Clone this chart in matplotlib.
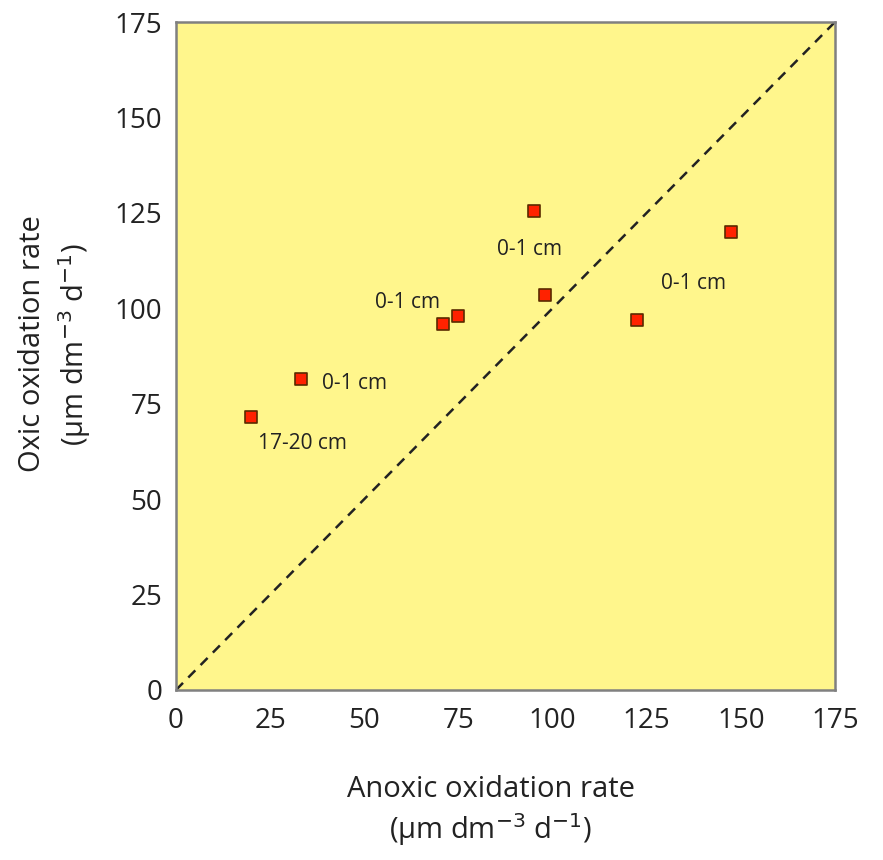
import matplotlib
matplotlib.use("Agg")
import matplotlib.pyplot as plt

plt.rcParams['font.family'] = ['Open Sans', 'DejaVu Sans']

# données
anoxic = [19.9, 33.2, 70.9, 74.9, 95.1, 98.0, 122.4, 147.4]
oxic = [71.5, 81.5, 95.9, 98.0, 125.5, 103.5, 96.9, 120.0]

etiquettes = ["17-20 cm", "0-1 cm", "0-1 cm", "0-1 cm", "0-1 cm"]
etiq_x = [33.6, 47.4, 61.5, 93.9, 137.4]
etiq_y = [64.7, 80.4, 101.6, 115.3, 106.6]

ticks = [0, 25, 50, 75, 100, 125, 150, 175]

fig = plt.figure(figsize=(8.83, 8.6), dpi=100)
ax = fig.add_axes([0.1993, 0.1977, 0.7463, 0.7767])
ax.set_facecolor('#fff68c')

ax.plot([0, 175], [0, 175], ls=(0, (4, 3)), color='#222222', lw=1.8, zorder=2)
ax.scatter(anoxic, oxic, marker='s', s=65, facecolor='#ff2200',
           edgecolor='#5a2a00', linewidths=1.2, zorder=3)

for t, x, y in zip(etiquettes, etiq_x, etiq_y):
    ax.text(x, y, t, ha='center', va='center', fontsize=15, color='#222222')

ax.set_xlim(0, 175)
ax.set_ylim(0, 175)
ax.set_xticks(ticks)
ax.set_yticks(ticks)
ax.tick_params(length=0, labelsize=20, colors='#222222')
ax.tick_params(axis='x', pad=12)
ax.tick_params(axis='y', pad=10)
for s in ax.spines.values():
    s.set_color('#808080')
    s.set_linewidth(1.8)

fig.text(0.556, 0.056, "Anoxic oxidation rate\n(µm dm$^{-3}$ d$^{-1}$)",
         ha='center', va='center', fontsize=21, color='#222222', linespacing=1.25)
fig.text(0.063, 0.60, "Oxic oxidation rate\n(µm dm$^{-3}$ d$^{-1}$)",
         ha='center', va='center', fontsize=21, color='#222222', rotation=90,
         linespacing=1.35)

fig.savefig("out.png", dpi=100)
